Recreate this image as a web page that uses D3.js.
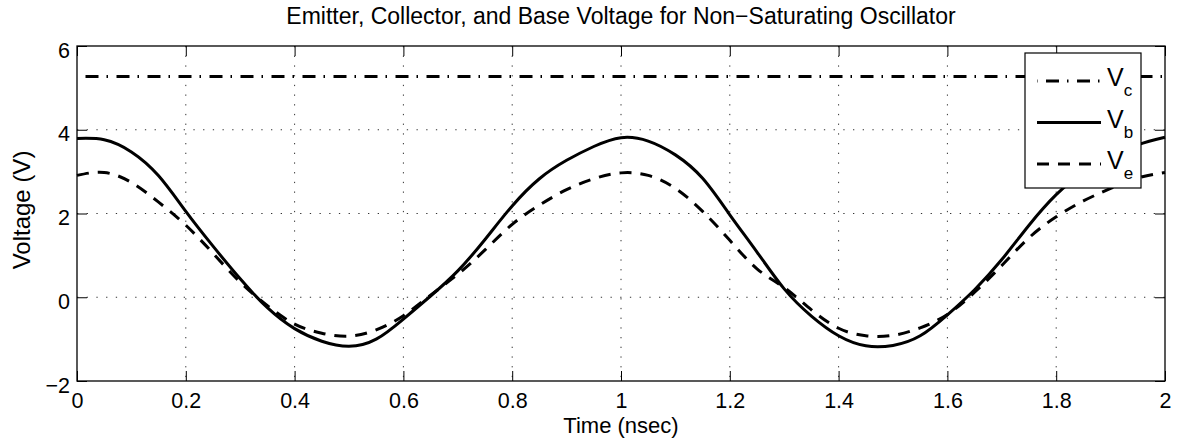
<!DOCTYPE html>
<html>
<head>
<meta charset="utf-8">
<script src="https://cdn.jsdelivr.net/npm/d3@7"></script>
<style>
  body { margin: 0; background: #fff; }
  svg { font-family: "Liberation Sans", Arial, Helvetica, sans-serif; }
</style>
</head>
<body>
<div id="chart"></div>
<script>
// Data (time in nsec, voltage in V)
const times = [0, 0.05, 0.1, 0.15, 0.2, 0.25, 0.3, 0.35, 0.4, 0.45, 0.5,
  0.55, 0.6, 0.65, 0.7, 0.75, 0.8, 0.85, 0.9, 0.95, 1.0,
  1.05, 1.1, 1.15, 1.2, 1.25, 1.3, 1.35, 1.4, 1.45, 1.5,
  1.55, 1.6, 1.65, 1.7, 1.75, 1.8, 1.85, 1.9, 1.95, 2.0];

const vbValues = [3.79, 3.76, 3.47, 2.9, 2.05, 1.22, 0.44, -0.25, -0.75, -1.05, -1.17,
  -1.0, -0.52, 0.03, 0.63, 1.38, 2.18, 2.83, 3.27, 3.6, 3.81,
  3.73, 3.4, 2.84, 1.97, 1.08, 0.2, -0.45, -0.92, -1.16, -1.15,
  -0.92, -0.42, 0.18, 0.9, 1.72, 2.45, 2.98, 3.35, 3.64, 3.82];

const veValues = [2.91, 2.98, 2.74, 2.27, 1.72, 1.05, 0.36, -0.2, -0.64, -0.86, -0.93,
  -0.78, -0.44, 0.05, 0.55, 1.13, 1.74, 2.2, 2.57, 2.83, 2.97,
  2.91, 2.6, 2.05, 1.36, 0.68, 0.23, -0.3, -0.74, -0.92, -0.91,
  -0.73, -0.41, 0.12, 0.76, 1.42, 1.92, 2.3, 2.6, 2.85, 2.98];

const vcLevel = 5.27;

const xTicks = [0, 0.2, 0.4, 0.6, 0.8, 1, 1.2, 1.4, 1.6, 1.8, 2];
const yTicks = [-2, 0, 2, 4, 6];

const legendNames = ["c", "b", "e"];

// Layout
const width = 1177;
const height = 444;
const plot = { left: 77, right: 1165, top: 46, bottom: 381 };

const svg = d3.select("#chart")
  .append("svg")
  .attr("width", width)
  .attr("height", height);

const x = d3.scaleLinear().domain([0, 2]).range([plot.left, plot.right]);
const y = d3.scaleLinear().domain([-2, 6]).range([plot.bottom, plot.top]);

// Dotted grid
const grid = svg.append("g")
  .attr("stroke", "#333")
  .attr("stroke-width", 1)
  .attr("stroke-dasharray", "1.3,8.4");

grid.selectAll(".vgrid")
  .data(xTicks.slice(1, -1))
  .enter()
  .append("line")
  .attr("x1", d => x(d)).attr("x2", d => x(d))
  .attr("y1", plot.top).attr("y2", plot.bottom);

grid.selectAll(".hgrid")
  .data(yTicks.slice(1, -1))
  .enter()
  .append("line")
  .attr("y1", d => y(d)).attr("y2", d => y(d))
  .attr("x1", plot.left).attr("x2", plot.right);

// Axes: ticks point inward on all four sides
const tickLen = 10;
const fmt = d => d < 0 ? "\u2212" + Math.abs(d) : String(d);

svg.append("g")
  .attr("transform", `translate(0,${plot.bottom})`)
  .call(d3.axisBottom(x).tickValues(xTicks).tickSizeInner(-tickLen).tickSizeOuter(0).tickFormat(fmt))
  .call(g => g.selectAll("text").attr("dy", null).attr("y", 27));

svg.append("g")
  .attr("transform", `translate(0,${plot.top})`)
  .call(d3.axisTop(x).tickValues(xTicks).tickSizeInner(-tickLen).tickSizeOuter(0).tickFormat(""));

svg.append("g")
  .attr("transform", `translate(${plot.left},0)`)
  .call(d3.axisLeft(y).tickValues(yTicks).tickSizeInner(-tickLen).tickSizeOuter(0).tickFormat(fmt))
  .call(g => g.selectAll("text").attr("dy", null).attr("x", -7).attr("y", 11));

svg.append("g")
  .attr("transform", `translate(${plot.right},0)`)
  .call(d3.axisRight(y).tickValues(yTicks).tickSizeInner(-tickLen).tickSizeOuter(0).tickFormat(""));

svg.selectAll(".domain").remove();
svg.selectAll(".tick line").attr("stroke", "#000").attr("stroke-width", 1);
svg.selectAll(".tick text")
  .attr("fill", "#000")
  .style("font-size", "21.5px")
  .style("font-family", "'Liberation Sans', Arial, sans-serif");

// Box
svg.append("rect")
  .attr("x", plot.left).attr("y", plot.top)
  .attr("width", plot.right - plot.left)
  .attr("height", plot.bottom - plot.top)
  .attr("fill", "none")
  .attr("stroke", "#000")
  .attr("stroke-width", 1.3);

// Curves
const line = d3.line()
  .x(d => x(d[0]))
  .y(d => y(d[1]))
  .curve(d3.curveNatural);

const styles = {
  c: { dash: "13,8,1.5,8.5", offset: 22.5 },
  b: { dash: null, offset: 0 },
  e: { dash: "12,9", offset: 0 }
};

const series = [
  { key: "c", points: [[0, vcLevel], [2, vcLevel]] },
  { key: "b", points: times.map((t, i) => [t, vbValues[i]]) },
  { key: "e", points: times.map((t, i) => [t, veValues[i]]) }
];

svg.selectAll(".curve")
  .data(series)
  .enter()
  .append("path")
  .attr("class", "curve")
  .attr("d", d => line(d.points))
  .attr("fill", "none")
  .attr("stroke", "#000")
  .attr("stroke-width", 3)
  .attr("stroke-dasharray", d => styles[d.key].dash)
  .attr("stroke-dashoffset", d => styles[d.key].offset);

// Legend
const legend = svg.append("g");
legend.append("rect")
  .attr("x", 1025).attr("y", 53)
  .attr("width", 116).attr("height", 135)
  .attr("fill", "#fff")
  .attr("stroke", "#000")
  .attr("stroke-width", 1.2);

legendNames.forEach((name, i) => {
  const ly = 81 + i * 41.5;
  legend.append("line")
    .attr("x1", 1037).attr("x2", 1101)
    .attr("y1", ly).attr("y2", ly)
    .attr("stroke", "#000")
    .attr("stroke-width", 3)
    .attr("stroke-dasharray", styles[name].dash)
    .attr("stroke-dashoffset", name === "c" ? 22 : 0);

  const txt = legend.append("text")
    .attr("x", 1107).attr("y", ly + 5)
    .style("font-size", "25px");
  txt.append("tspan").text("V");
  txt.append("tspan")
    .attr("dy", 10)
    .style("font-size", "17px")
    .text(name);
});

// Title and axis labels
svg.append("text")
  .attr("x", (plot.left + plot.right) / 2)
  .attr("y", 24)
  .attr("text-anchor", "middle")
  .style("font-size", "23px")
  .text("Emitter, Collector, and Base Voltage for Non\u2212Saturating Oscillator");

svg.append("text")
  .attr("x", (plot.left + plot.right) / 2)
  .attr("y", 433)
  .attr("text-anchor", "middle")
  .style("font-size", "22px")
  .text("Time (nsec)");

svg.append("text")
  .attr("transform", "translate(30,210) rotate(-90)")
  .attr("text-anchor", "middle")
  .style("font-size", "24px")
  .text("Voltage (V)");
</script>
</body>
</html>
